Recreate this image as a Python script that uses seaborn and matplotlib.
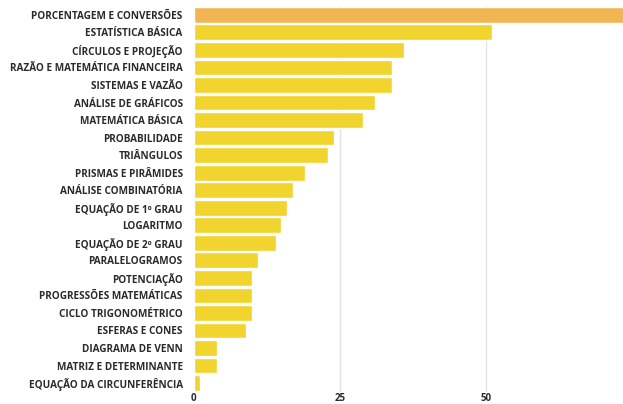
import matplotlib
matplotlib.use("Agg")
import matplotlib.pyplot as plt
import seaborn as sns
import pandas as pd

# ------------------------------------------------------------
# Dados
# ------------------------------------------------------------
topicos = [
    "PORCENTAGEM E CONVERSÕES", "ESTATÍSTICA BÁSICA", "CÍRCULOS E PROJEÇÃO",
    "RAZÃO E MATEMÁTICA FINANCEIRA", "SISTEMAS E VAZÃO", "ANÁLISE DE GRÁFICOS",
    "MATEMÁTICA BÁSICA", "PROBABILIDADE", "TRIÂNGULOS", "PRISMAS E PIRÂMIDES",
    "ANÁLISE COMBINATÓRIA", "EQUAÇÃO DE 1º GRAU", "LOGARITMO",
    "EQUAÇÃO DE 2º GRAU", "PARALELOGRAMOS", "POTENCIAÇÃO",
    "PROGRESSÕES MATEMÁTICAS", "CICLO TRIGONOMÉTRICO", "ESFERAS E CONES",
    "DIAGRAMA DE VENN", "MATRIZ E DETERMINANTE", "EQUAÇÃO DA CIRCUNFERÊNCIA",
]
questoes = [78, 51, 36, 34, 34, 31, 29, 24, 23, 19, 17, 16, 15, 14, 11, 10,
            10, 10, 9, 4, 4, 1]
ticks_x = [0, 25, 50]

COR_TOPO = "#F2B554"
COR_BARRA = "#F2D42E"

df = pd.DataFrame({"topico": topicos, "questoes": questoes})
cores = [COR_TOPO] + [COR_BARRA] * (len(topicos) - 1)

# ------------------------------------------------------------
# Gráfico
# ------------------------------------------------------------
sns.set_style("white")
plt.rcParams["font.family"] = ["Open Sans", "DejaVu Sans"]

fig = plt.figure(figsize=(6.23, 4.04), dpi=100)
ax = fig.add_axes([0.311, 0.03, 0.689, 0.955])

sns.barplot(data=df, x="questoes", y="topico", hue="topico",
            palette=cores, legend=False, width=0.9, ax=ax, saturation=1)

ax.set_xlim(0, 73.5)
ax.set_xticks(ticks_x)
ax.set_xlabel("")
ax.set_ylabel("")
for v in ticks_x[1:]:
    ax.axvline(v, color="#e4e4e4", lw=1, zorder=0)

for s in ax.spines.values():
    s.set_visible(False)

ax.tick_params(axis="y", length=0, pad=8, labelsize=7.2, labelcolor="#2b2b2b")
ax.tick_params(axis="x", length=0, pad=1, labelsize=7, labelcolor="#2b2b2b")
for lbl in ax.get_yticklabels() + ax.get_xticklabels():
    lbl.set_fontweight("bold")

fig.savefig("out.png", dpi=100, facecolor="white")
